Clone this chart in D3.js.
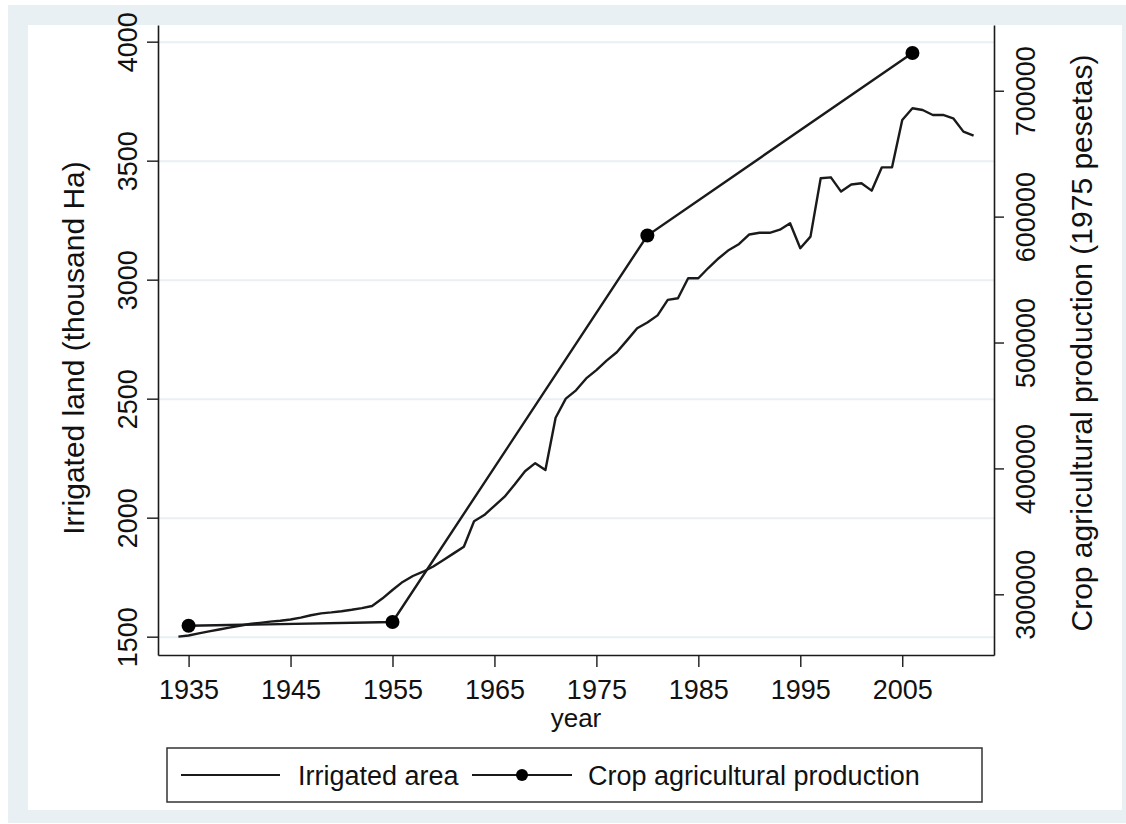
<!DOCTYPE html>
<html>
<head>
<meta charset="utf-8">
<script src="https://cdn.jsdelivr.net/npm/d3@7"></script>
<style>
  body { margin: 0; background: #fff; }
  text { font-family: "Liberation Sans", Arial, sans-serif; fill: #111; }
</style>
</head>
<body>
<script>
(function () {
  'use strict';

  // irrigated land, thousand Ha (left axis)
  const irrigatedYears = [
    1934, 1935, 1936, 1937, 1938, 1939, 1940, 1941, 1942, 1943,
    1944, 1945, 1946, 1947, 1948, 1949, 1950, 1951, 1952, 1953,
    1954, 1955, 1956, 1957, 1958, 1959, 1960, 1961, 1962, 1963,
    1964, 1965, 1966, 1967, 1968, 1969, 1970, 1971, 1972, 1973,
    1974, 1975, 1976, 1977, 1978, 1979, 1980, 1981, 1982, 1983,
    1984, 1985, 1986, 1987, 1988, 1989, 1990, 1991, 1992, 1993,
    1994, 1995, 1996, 1997, 1998, 1999, 2000, 2001, 2002, 2003,
    2004, 2005, 2006, 2007, 2008, 2009, 2010, 2011, 2012
  ];
  const irrigatedArea = [
    1500, 1505, 1514, 1522, 1530, 1538, 1546, 1553, 1558, 1563,
    1567, 1572, 1580, 1590, 1598, 1602, 1607, 1613, 1620, 1629,
    1660, 1696, 1730, 1755, 1773, 1795, 1822, 1850, 1878, 1985,
    2011, 2050, 2088, 2140, 2195, 2229, 2200, 2420, 2500, 2535,
    2585, 2620, 2660, 2695, 2745, 2796, 2820, 2850, 2915, 2922,
    3006, 3006, 3050, 3090, 3125, 3150, 3190, 3197, 3197, 3210,
    3237, 3132, 3181, 3426, 3430, 3370, 3400, 3405, 3374, 3472,
    3472, 3671, 3720, 3713, 3692, 3692, 3678, 3622, 3605
  ];

  // crop agricultural production, 1975 pesetas (right axis)
  const cropYears = [1935, 1955, 1980, 2006];
  const cropProduction = [275000, 278000, 585000, 730000];

  const xTicks = [1935, 1945, 1955, 1965, 1975, 1985, 1995, 2005];
  const leftTicks = [1500, 2000, 2500, 3000, 3500, 4000];
  const rightTicks = [300000, 400000, 500000, 600000, 700000];

  const W = 1126, H = 824;
  const plot = { left: 158, right: 994, top: 25, bottom: 655 };
  const ink = '#1a1a1a';
  const pale = '#e8f0f3';

  const svg = d3.select('body')
    .append('svg')
    .attr('width', W)
    .attr('height', H);

  // background frames
  svg.append('rect')
    .attr('x', 8).attr('y', 5)
    .attr('width', W - 8).attr('height', 818)
    .attr('fill', pale);
  svg.append('rect')
    .attr('x', 28).attr('y', 25)
    .attr('width', 1094).attr('height', 785)
    .attr('fill', '#fff');

  // ===========================================================================
  // scales
  // ===========================================================================
  const xScale = d3.scaleLinear()
    .domain([1932, 2014])
    .range([plot.left, plot.right]);

  const yLeft = d3.scaleLinear()
    .domain([1423, 4070])
    .range([plot.bottom, plot.top]);

  const yRight = d3.scaleLinear()
    .domain([251800, 752200])
    .range([plot.bottom, plot.top]);

  // grid lines
  svg.append('g')
    .attr('class', 'grid')
    .attr('transform', `translate(${plot.left},0)`)
    .call(d3.axisLeft(yLeft)
      .tickValues(leftTicks)
      .tickSize(-(plot.right - plot.left))
      .tickFormat(''))
    .call(g => g.select('.domain').remove())
    .call(g => g.selectAll('line')
      .attr('stroke', pale)
      .attr('stroke-width', 2));

  // ===========================================================================
  // axes
  // ===========================================================================
  function styleAxis (g) {
    g.select('.domain').attr('stroke', ink).attr('stroke-width', 1.6);
    g.selectAll('.tick line').attr('stroke', ink).attr('stroke-width', 1.4);
    g.selectAll('text')
      .attr('font-size', '27px')
      .attr('fill', '#111')
      .style('font-family', '"Liberation Sans", Arial, sans-serif');
  }

  svg.append('g')
    .attr('class', 'axis--x')
    .attr('transform', `translate(0,${plot.bottom})`)
    .call(d3.axisBottom(xScale)
      .tickValues(xTicks)
      .tickSize(12)
      .tickSizeOuter(0)
      .tickFormat(d3.format('d')))
    .call(styleAxis)
    .call(g => g.selectAll('text').attr('y', 44).attr('dy', 0));

  svg.append('g')
    .attr('class', 'axis--yl')
    .attr('transform', `translate(${plot.left},0)`)
    .call(d3.axisLeft(yLeft)
      .tickValues(leftTicks)
      .tickSize(11)
      .tickSizeOuter(0)
      .tickFormat(d3.format('d')))
    .call(styleAxis)
    .call(g => g.selectAll('text')
      .attr('x', 0).attr('dy', 0)
      .attr('text-anchor', 'middle')
      .attr('transform', 'translate(-21.5,0) rotate(-90)'));

  svg.append('g')
    .attr('class', 'axis--yr')
    .attr('transform', `translate(${plot.right},0)`)
    .call(d3.axisRight(yRight)
      .tickValues(rightTicks)
      .tickSize(10)
      .tickSizeOuter(0)
      .tickFormat(d3.format('d')))
    .call(styleAxis)
    .call(g => g.selectAll('text')
      .attr('x', 0).attr('dy', 0)
      .attr('text-anchor', 'middle')
      .attr('transform', 'translate(41,0) rotate(-90)'));

  // axis titles
  svg.append('text')
    .attr('x', (plot.left + plot.right) / 2)
    .attr('y', 727)
    .attr('text-anchor', 'middle')
    .attr('font-size', '26px')
    .text('year');

  svg.append('text')
    .attr('transform', 'translate(84,348) rotate(-90)')
    .attr('text-anchor', 'middle')
    .attr('font-size', '30px')
    .text('Irrigated land (thousand Ha)');

  svg.append('text')
    .attr('transform', 'translate(1092,343) rotate(-90)')
    .attr('text-anchor', 'middle')
    .attr('font-size', '30px')
    .text('Crop agricultural production (1975 pesetas)');

  // ===========================================================================
  // lines
  // ===========================================================================
  const irrigated = irrigatedYears.map((y, i) => [y, irrigatedArea[i]]);
  const crop = cropYears.map((y, i) => [y, cropProduction[i]]);

  svg.append('path')
    .datum(irrigated)
    .attr('fill', 'none')
    .attr('stroke', ink)
    .attr('stroke-width', 2.4)
    .attr('stroke-linejoin', 'round')
    .attr('d', d3.line().x(d => xScale(d[0])).y(d => yLeft(d[1])));

  svg.append('path')
    .datum(crop)
    .attr('fill', 'none')
    .attr('stroke', ink)
    .attr('stroke-width', 2.4)
    .attr('d', d3.line().x(d => xScale(d[0])).y(d => yRight(d[1])));

  svg.append('g')
    .selectAll('circle')
    .data(crop)
    .enter()
    .append('circle')
    .attr('cx', d => xScale(d[0]))
    .attr('cy', d => yRight(d[1]))
    .attr('r', 7)
    .attr('fill', '#000');

  // ===========================================================================
  // legend
  // ===========================================================================
  const legend = svg.append('g').attr('class', 'legend');
  legend.append('rect')
    .attr('x', 167).attr('y', 748)
    .attr('width', 815).attr('height', 54)
    .attr('fill', '#fff')
    .attr('stroke', '#333')
    .attr('stroke-width', 1.5);

  legend.append('line')
    .attr('x1', 181).attr('x2', 280)
    .attr('y1', 775).attr('y2', 775)
    .attr('stroke', ink).attr('stroke-width', 2.2);
  legend.append('text')
    .attr('x', 298).attr('y', 785)
    .attr('font-size', '27px')
    .text('Irrigated area');

  legend.append('line')
    .attr('x1', 472).attr('x2', 572)
    .attr('y1', 775).attr('y2', 775)
    .attr('stroke', ink).attr('stroke-width', 2.2);
  legend.append('circle')
    .attr('cx', 522).attr('cy', 775)
    .attr('r', 6).attr('fill', '#000');
  legend.append('text')
    .attr('x', 588).attr('y', 785)
    .attr('font-size', '27px')
    .text('Crop agricultural production');
})();
</script>
</body>
</html>
